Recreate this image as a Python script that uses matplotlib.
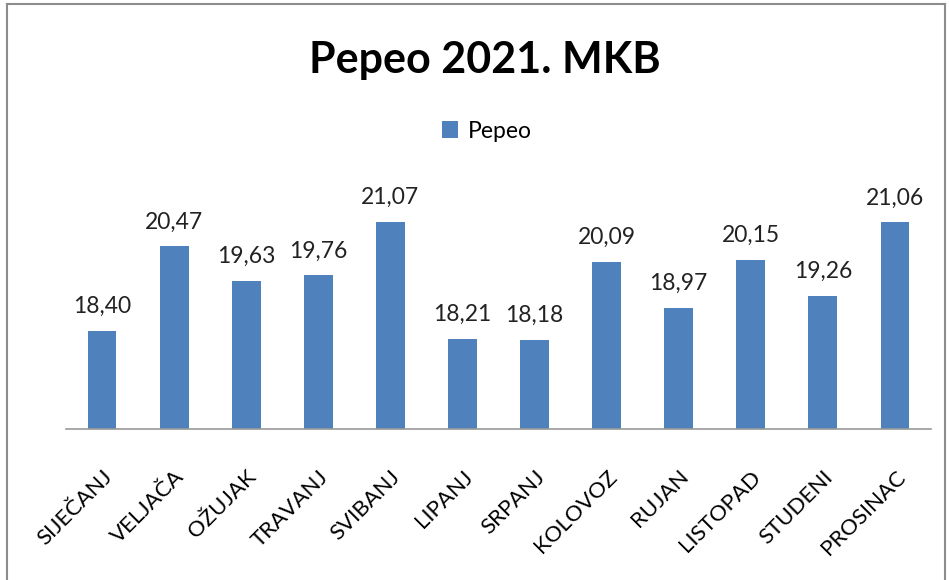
import matplotlib.pyplot as plt
from matplotlib.lines import Line2D

months = ['SIJEČANJ', 'VELJAČA', 'OŽUJAK', 'TRAVANJ', 'SVIBANJ', 'LIPANJ',
          'SRPANJ', 'KOLOVOZ', 'RUJAN', 'LISTOPAD', 'STUDENI', 'PROSINAC']
pepeo = [18.40, 20.47, 19.63, 19.76, 21.07, 18.21,
         18.18, 20.09, 18.97, 20.15, 19.26, 21.06]

plt.rcParams['font.family'] = ['Lato', 'DejaVu Sans']

fig = plt.figure(figsize=(9.49, 5.8), dpi=100)
# axes: left 66px, right 931px, baseline 429px, top ~184px
ax = fig.add_axes([66 / 949, 1 - 429 / 580, (931 - 66) / 949, (429 - 184) / 580])

x = range(len(months))
bars = ax.bar(x, pepeo, width=0.4, color='#4F81BD', label='Pepeo')
ax.set_ylim(16, 22)
ax.set_xlim(-0.5, len(months) - 0.5)

for xi, v in zip(x, pepeo):
    ax.annotate(f'{v:.2f}'.replace('.', ','), (xi, v), xytext=(0, 10),
                textcoords='offset points', ha='center', va='bottom',
                fontsize=16.5, color='#222222')

ax.set_xticks(list(x))
ax.set_xticklabels(months, rotation=45, ha='right', rotation_mode='anchor',
                   fontsize=16)
ax.tick_params(axis='x', length=0, pad=27)
ax.set_yticks([])
for s in ['top', 'right', 'left']:
    ax.spines[s].set_visible(False)
ax.spines['bottom'].set_color('#999999')
ax.spines['bottom'].set_linewidth(1.2)

fig.text(485 / 949, 1 - 60 / 580, 'Pepeo 2021. MKB', ha='center', va='center',
         fontsize=31, fontweight='bold')
fig.legend(handles=[bars], labels=['Pepeo'], loc='center',
           bbox_to_anchor=(487 / 949, 1 - 131 / 580), frameon=False,
           fontsize=16.5, handlelength=0.7, handleheight=0.7, handletextpad=0.4)

# chart border
gray = '#8c8c8c'
fig.add_artist(Line2D([7 / 949, 7 / 949], [0, 1 - 4 / 580], color=gray, lw=1.5))
fig.add_artist(Line2D([7 / 949, 945 / 949], [1 - 4 / 580, 1 - 4 / 580], color=gray, lw=1.5))
fig.add_artist(Line2D([945 / 949, 945 / 949], [0, 1 - 4 / 580], color=gray, lw=1.5))

fig.savefig('out.png', dpi=100)
